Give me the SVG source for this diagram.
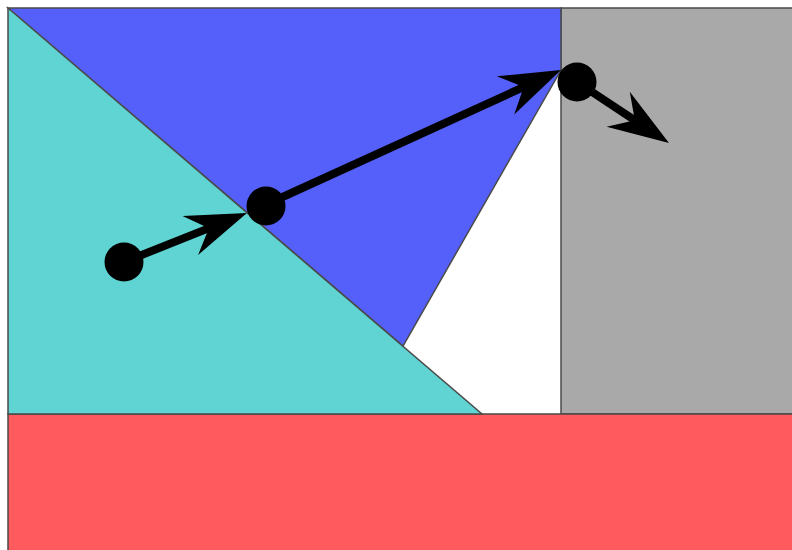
<svg xmlns="http://www.w3.org/2000/svg" width="792" height="550" viewBox="0 0 792 550">
<style>
.reg{stroke:#4a4a4a;stroke-width:1.5;stroke-linejoin:miter}
.pt{fill:#000}
.ln{stroke:#000;stroke-width:8;fill:none}
</style>
<defs>
<marker id="ah" markerUnits="userSpaceOnUse" orient="auto" refX="31" refY="21" markerWidth="62" markerHeight="42" overflow="visible">
<path d="M61,21 L0,0 L20,21 L0,42 Z" fill="#000"/>
</marker>
</defs>
<rect width="792" height="550" fill="#fff"/>
<g id="regions">
<rect id="gray" class="reg" x="561" y="8" width="240" height="406" fill="#a9a9a9"/>
<rect id="red" class="reg" x="8" y="414" width="800" height="150" fill="#ff5a5e"/>
<polygon id="blue" class="reg" points="8,8 561,8 561,70 403,346" fill="#5460f9" stroke="#2a2f7a"/>
<polygon id="cyan" class="reg" points="8,8 482,414 8,414" fill="#5fd4d2" stroke="#2f4f5a"/>
</g>
<g id="connectors">
<line class="ln" x1="124" y1="262" x2="219.1" y2="224.1" marker-end="url(#ah)"/>
<line class="ln" x1="265" y1="205" x2="533.7" y2="82.5" marker-end="url(#ah)"/>
<line class="ln" x1="577" y1="82" x2="644" y2="126.4" marker-end="url(#ah)"/>
</g>
<g id="p1"><circle class="pt" cx="124" cy="262" r="19.5"/></g>
<g id="p2"><circle class="pt" cx="266" cy="206" r="19.5"/></g>
<g id="p3"><circle class="pt" cx="577" cy="82" r="19.5"/></g>
</svg>
